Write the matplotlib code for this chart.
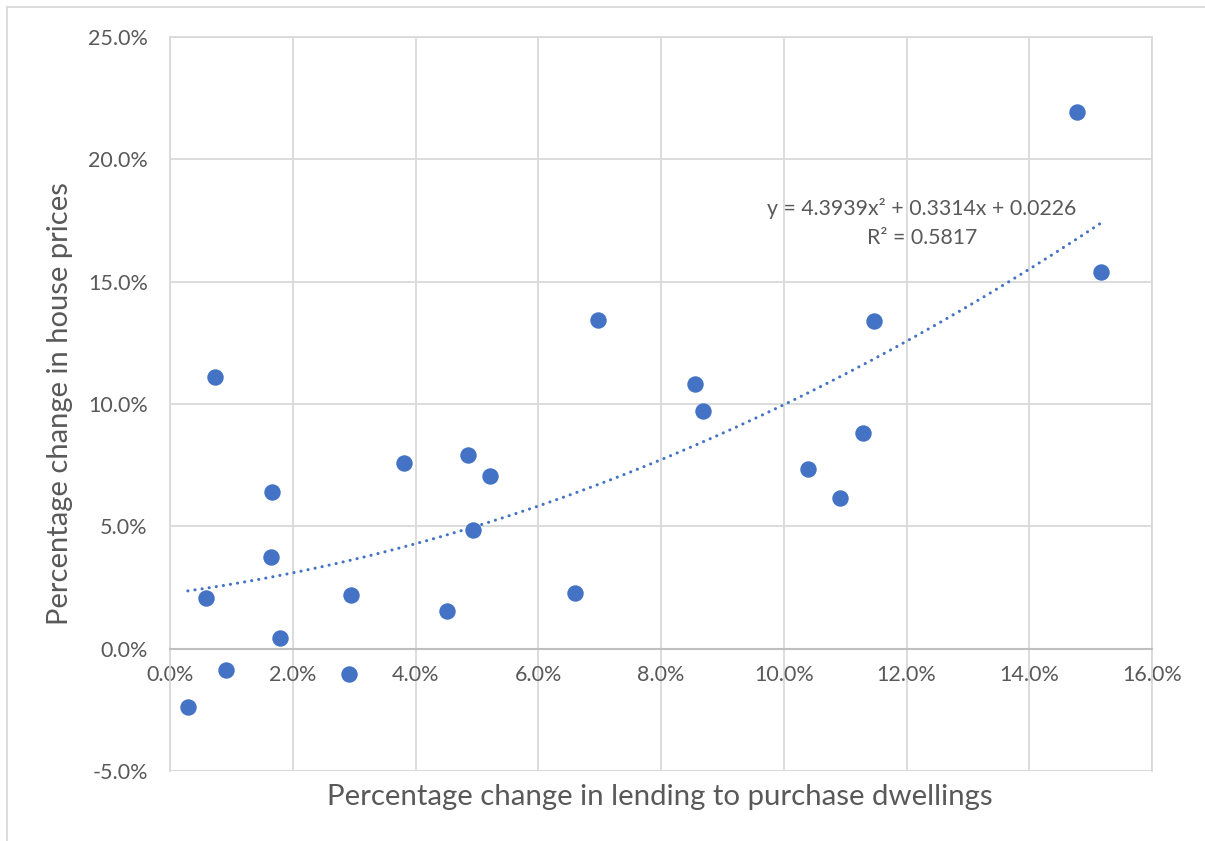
import numpy as np
import matplotlib
matplotlib.use("Agg")
import matplotlib.pyplot as plt
from matplotlib.ticker import PercentFormatter, MultipleLocator

plt.rcParams['font.family'] = ['Lato', 'DejaVu Sans']
plt.rcParams['axes.unicode_minus'] = False

# lending growth (x) vs house price growth (y), in percent
lending_change = [0.29, 0.59, 0.73, 0.91, 1.64, 1.66, 1.79, 2.92, 2.95, 3.81,
                  4.51, 4.85, 4.93, 5.21, 6.60, 6.97, 8.55, 8.68, 10.39, 10.91,
                  11.29, 11.47, 14.78, 15.17]
price_change = [-2.37, 2.08, 11.11, -0.86, 3.76, 6.41, 0.45, -1.02, 2.21, 7.60,
                1.55, 7.92, 4.86, 7.07, 2.29, 13.44, 10.83, 9.72, 7.35, 6.17,
                8.82, 13.40, 21.94, 15.40]
# polynomial trendline shown on the chart
trend_coef = [4.3939, 0.3314, 0.0226]
r_squared = 0.5817

x = np.array(lending_change) / 100
y = np.array(price_change) / 100

fig = plt.figure(figsize=(12.05, 8.41), dpi=100)
ax = fig.add_axes([170/1205, 1-771/841, (1152-170)/1205, (771-37)/841])

grid_c = '#d9d9d9'
text_c = '#595959'
blue = '#4472C4'

ax.scatter(x, y, s=140, color=blue, zorder=3, linewidths=0)

xt = np.linspace(x.min(), x.max(), 200)
ax.plot(xt, np.polyval(trend_coef, xt), color=blue, lw=2.2,
        linestyle=(0, (0.05, 2.3)), dash_capstyle='round', zorder=2)

ax.text(0.1225, 0.180, 'y = 4.3939x² + 0.3314x + 0.0226', ha='center', va='center',
        fontsize=15.3, color=text_c)
ax.text(0.1225, 0.168, 'R² = %.4f' % r_squared, ha='center', va='center',
        fontsize=15.3, color=text_c)

ax.set_xlim(0, 0.16)
ax.set_ylim(-0.05, 0.25)
ax.xaxis.set_major_locator(MultipleLocator(0.02))
ax.yaxis.set_major_locator(MultipleLocator(0.05))
ax.xaxis.set_major_formatter(PercentFormatter(1.0, decimals=1))
ax.yaxis.set_major_formatter(PercentFormatter(1.0, decimals=1))
ax.grid(True, color=grid_c, lw=1.3, zorder=0)
ax.set_axisbelow(True)

for s in ['top', 'right', 'left']:
    ax.spines[s].set_color(grid_c)
    ax.spines[s].set_linewidth(1.3)
ax.spines['bottom'].set_position(('data', 0))
ax.spines['bottom'].set_color('#bfbfbf')
ax.spines['bottom'].set_linewidth(1.5)
ax.axhline(-0.05, color=grid_c, lw=1.3, zorder=0)

ax.tick_params(axis='both', length=0, labelsize=15.5, labelcolor=text_c)
ax.tick_params(axis='y', pad=16)
ax.tick_params(axis='x', pad=12)

fig.text(660/1205, 1-797/841, 'Percentage change in lending to purchase dwellings',
         ha='center', va='center', fontsize=21.2, color=text_c)
fig.text(60/1205, 1-404/841, 'Percentage change in house prices', rotation=90,
         ha='center', va='center', fontsize=21, color=text_c)

# chart border (left and top edges visible)
fig.add_artist(plt.Line2D([7/1205, 7/1205], [0, 1-7/841], color=grid_c, lw=1.3))
fig.add_artist(plt.Line2D([7/1205, 1], [1-7/841, 1-7/841], color=grid_c, lw=1.3))

fig.savefig('out.png', dpi=100)
